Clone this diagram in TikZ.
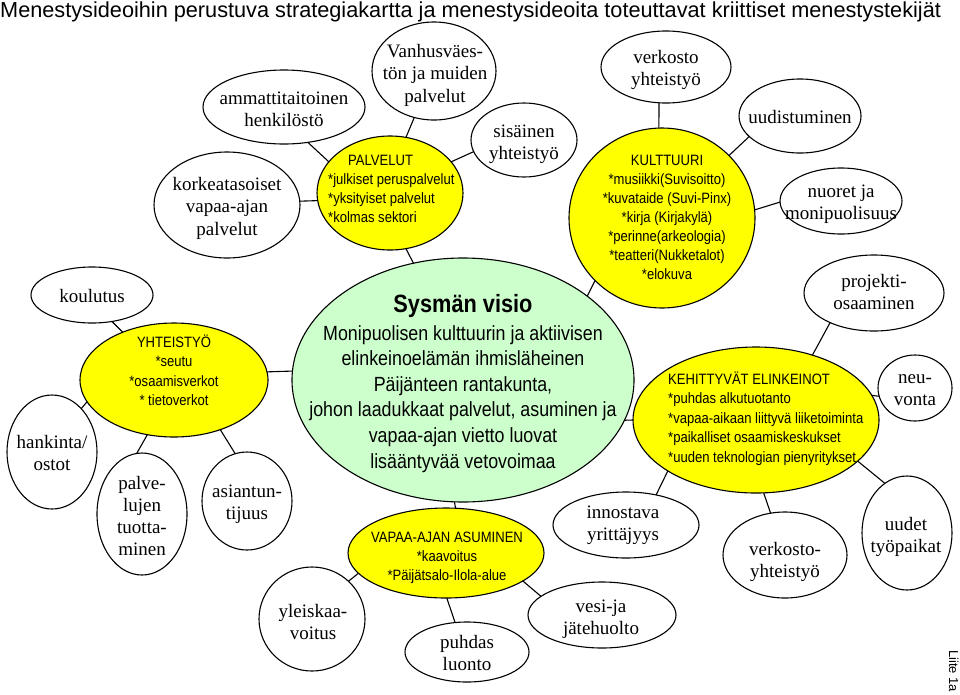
\documentclass[tikz,border=0pt]{standalone}
\usepackage{fontspec}
\setmainfont{Liberation Serif}
\newfontfamily\nsans[FakeStretch=0.87]{Liberation Sans}
\newfontfamily\tsans{Liberation Sans}
\usetikzlibrary{shapes.geometric}
\newcommand\blk[2]{\begin{tabular}[t]{@{}#1@{}}#2\end{tabular}}
\newcommand\nl{\\{}}
\definecolor{ylw}{RGB}{255,255,0}
\definecolor{grn}{RGB}{204,255,204}
\begin{document}
\begin{tikzpicture}[x=1pt,y=-1pt,
 bub/.style={ellipse, draw=black, line width=1.1pt, fill=white, inner sep=0pt, outer sep=0pt},
 ybub/.style={bub, fill=ylw},
 gbub/.style={bub, fill=grn},
 sz/.style 2 args={minimum width=#1pt, minimum height=#2pt},
 ser/.style={inner sep=0pt, anchor=base, font=\fontsize{19}{22.5}\selectfont},
 san/.style={inner sep=0pt, anchor=base, font=\nsans\fontsize{15}{#1}\selectfont},
 san/.default=19,
 con/.style={line width=1.1pt},
]
\useasboundingbox (0,0) rectangle (960,694);

% ellipses
\node[bub, sz={162}{74}] (amm) at (284,107) {};
\node[bub, sz={124}{98}] (van) at (434,71) {};
\node[bub, sz={146}{106}] (kor) at (227,205) {};
\node[ybub, sz={146}{114}] (pal) at (390,193) {};
\node[bub, sz={106}{74}] (sis) at (524,140) {};
\node[bub, sz={130}{72}] (ver) at (666,67) {};
\node[bub, sz={122}{74}] (uud) at (800,116) {};
\node[ybub, sz={186}{180}] (kul) at (662,218) {};
\node[bub, sz={122}{66}] (nuo) at (841,201) {};
\node[bub, sz={140}{76}] (pro) at (874,293) {};
\node[bub, sz={122}{56}] (kou) at (92,295) {};
\node[ybub, sz={188}{114}] (yht) at (174,380) {};
\node[gbub, sz={342}{244}] (sys) at (463,380) {};
\node[bub, sz={90}{114}] (han) at (52,452) {};
\node[bub, sz={90}{122}] (ptu) at (142,514) {};
\node[bub, sz={90}{98}] (asi) at (247,501) {};
\node[bub, sz={106}{104}] (yle) at (312,619) {};
\node[ybub, sz={196}{90}] (vap) at (446,553) {};
\node[bub, sz={124}{60}] (puh) at (467,652) {};
\node[bub, sz={148}{66}] (ves) at (602,615) {};
\node[bub, sz={146}{66}] (inn) at (626,525) {};
\node[ybub, sz={246}{146}] (keh) at (756,420) {};
\node[bub, sz={74}{66}] (neu) at (915,388) {};
\node[bub, sz={124}{86}] (vky) at (785,555) {};
\node[bub, sz={90}{114}] (upa) at (907,533) {};

% connectors
\draw[con] (amm.-56) -- (pal.153);
\draw[con] (van.-113) -- (pal.74);
\draw[con] (kor.3) -- (pal.-174);
\draw[con] (sis.-167) -- (pal.27);
\draw[con] (pal.-74) -- (sys.113);
\draw[con] (ver.-101) -- (kul.92);
\draw[con] (uud.-158) -- (kul.43);
\draw[con] (nuo.-179) -- (kul.5);
\draw[con] (kul.-137) -- (sys.34);
\draw[con] (kou.-53) -- (yht.137);
\draw[con] (yht.5) -- (sys.177);
\draw[con] (han.56) -- (yht.-166);
\draw[con] (yht.-116) -- (ptu.95);
\draw[con] (yht.-47) -- (asi.104);
\draw[con] (sys.-94) -- (vap.78);
\draw[con] (yle.46) -- (vap.-167);
\draw[con] (vap.-89) -- (puh.112);
\draw[con] (vap.-20) -- (ves.163);
\draw[con] (sys.-14) -- (keh.180);
\draw[con] (keh.49) -- (pro.-146);
\draw[con] (keh.12) -- (neu.-167);
\draw[con] (keh.-150) -- (inn.45);
\draw[con] (keh.-84) -- (vky.109);
\draw[con] (keh.-22) -- (upa.114);

% serif texts
\node[ser] (ammT) at (284,104) {\blk{c}{ammattitaitoinen\\henkilöstö}};
\node[ser] (vanT) at (435,57) {\blk{c}{Vanhusväes-\\tön ja muiden\\palvelut}};
\node[ser] (korT) at (227,190) {\blk{c}{korkeatasoiset\\vapaa-ajan\\palvelut}};
\node[ser] (sisT) at (524,137) {\blk{c}{sisäinen\\yhteistyö}};
\node[ser] (verT) at (666,63) {\blk{c}{verkosto\\yhteistyö}};
\node[ser] (uudT) at (800,123) {uudistuminen};
\node[ser] (nuoT) at (841,197) {\blk{c}{nuoret ja\\monipuolisuus}};
\node[ser] (proT) at (874,287) {\blk{c}{projekti-\\osaaminen}};
\node[ser] (kouT) at (92,302) {koulutus};
\node[ser] (hanT) at (52,448) {\blk{c}{hankinta/\\ostot}};
\node[ser, font=\fontsize{19}{22}\selectfont] (ptuT) at (142,489) {\blk{c}{palve-\\lujen\\tuotta-\\minen}};
\node[ser] (asiT) at (247,497) {\blk{c}{asiantun-\\tijuus}};
\node[ser] (yleT) at (313,617) {\blk{c}{yleiskaa-\\voitus}};
\node[ser] (puhT) at (467,648) {\blk{c}{puhdas\\luonto}};
\node[ser] (vesT) at (601,612) {\blk{c}{vesi-ja\\jätehuolto}};
\node[ser] (innT) at (623,518) {\blk{c}{innostava\\yrittäjyys}};
\node[ser] (neuT) at (915,383) {\blk{c}{neu-\\vonta}};
\node[ser] (vkyT) at (785,555) {\blk{c}{verkosto-\\yhteistyö}};
\node[ser] (upaT) at (906,530) {\blk{c}{uudet\\työpaikat}};

% sans texts
\node[san, anchor=base west] (palT) at (328,165) {\blk{l}{\hspace*{20pt}PALVELUT\nl *julkiset peruspalvelut\nl *yksityiset palvelut\nl *kolmas sektori}};
\node[san] (kulT) at (667,165) {\blk{c}{KULTTUURI\nl *musiikki(Suvisoitto)\nl *kuvataide (Suvi-Pinx)\nl *kirja (Kirjakylä)\nl *perinne(arkeologia)\nl *teatteri(Nukketalot)\nl *elokuva}};
\node[san=19.5] (yhtT) at (174,347) {\blk{c}{YHTEISTYÖ\nl *seutu\nl *osaamisverkot\nl * tietoverkot}};
\node[san] (vapT) at (447,542) {\blk{c}{VAPAA-AJAN ASUMINEN\nl *kaavoitus\nl *Päijätsalo-Ilola-alue}};
\node[san=19.5, anchor=base west] (kehT) at (668,384) {\blk{l}{KEHITTYVÄT ELINKEINOT\nl *puhdas alkutuotanto\nl *vapaa-aikaan liittyvä liiketoiminta\nl *paikalliset osaamiskeskukset\nl *uuden teknologian pienyritykset}};
\node[inner sep=0pt, anchor=base, font=\nsans\bfseries\fontsize{25}{30}\selectfont] (sysH) at (463,312) {Sysmän visio};
\node[inner sep=0pt, anchor=base, font=\nsans\fontsize{20.5}{25.6}\selectfont] (sysT) at (463,340) {\blk{c}{Monipuolisen kulttuurin ja aktiivisen\\elinkeinoelämän ihmisläheinen\\Päijänteen rantakunta,\\johon laadukkaat palvelut, asuminen ja\\vapaa-ajan vietto luovat\\lisääntyvää vetovoimaa}};

% title and note
\node[inner sep=0pt, anchor=base west, font=\tsans\fontsize{21.7}{26}\selectfont] (title) at (0,17) {Menestysideoihin perustuva strategiakartta ja menestysideoita toteuttavat kriittiset menestystekijät};
\node[inner sep=0pt, anchor=base west, rotate=-90, font=\tsans\fontsize{13}{15}\selectfont] (liite) at (949,650) {Liite 1a};
\end{tikzpicture}
\end{document}
